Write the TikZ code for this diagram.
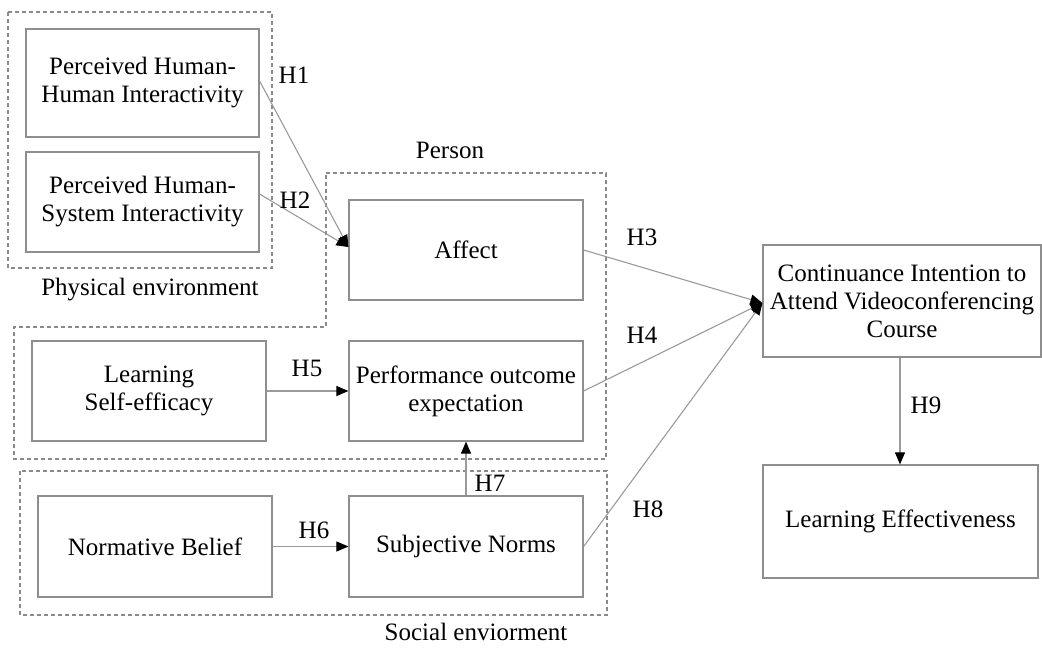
\documentclass[tikz,border=0pt]{standalone}
\usepackage{fontspec}
\setmainfont{Liberation Serif}
\usetikzlibrary{arrows.meta}
\definecolor{boxgray}{HTML}{8E8E8E}
\definecolor{linegray}{HTML}{9A9A9A}
\definecolor{dashgray}{HTML}{8A8A8A}
\begin{document}
\begin{tikzpicture}[x=1pt,y=-1pt,
  box/.style={draw=boxgray, line width=1.2pt, inner sep=0pt, align=center,
    font=\fontsize{25}{28}\selectfont},
  lbl/.style={inner sep=0pt, font=\fontsize{25}{28}\selectfont},
  conn/.style={draw=linegray, line width=1.1pt,
    -{Triangle[length=12pt,width=10pt,color=black]}},
  grp/.style={draw=dashgray, dash pattern=on 4pt off 3pt, line width=1.1pt}]
\useasboundingbox (0,0) rectangle (1042,649);

% group outlines
\draw[grp] (8,12) rectangle (272,268);
\draw[grp] (326,173) -- (606,173) -- (606,459) -- (14,459) -- (14,327) -- (326,327) -- cycle;
\draw[grp] (20,471) rectangle (607,615);

% boxes
\node[box, minimum width=233pt, minimum height=108pt] (phh) at (142.5,83) {Perceived Human-\\Human Interactivity};
\node[box, minimum width=233pt, minimum height=100pt] (phs) at (142.5,202) {Perceived Human-\\System Interactivity};
\node[box, minimum width=234pt, minimum height=100pt] (aff) at (466,250) {Affect};
\node[box, minimum width=234pt, minimum height=100pt] (perf) at (466,391) {Performance outcome\\expectation};
\node[box, minimum width=234pt, minimum height=100pt] (lse) at (149,391) {Learning\\Self-efficacy};
\node[box, minimum width=234pt, minimum height=101pt] (nb) at (155,546.5) {Normative Belief};
\node[box, minimum width=234pt, minimum height=101pt] (sn) at (466,546.5) {Subjective Norms};
\node[box, minimum width=278pt, minimum height=112pt] (ci) at (902,301) {Continuance Intention to\\Attend Videoconferencing\\Course};
\node[box, minimum width=275pt, minimum height=113pt] (le) at (900.5,521.5) {Learning Effectiveness};

% group labels
\node[lbl] (lphys) at (150,290) {Physical environment};
\node[lbl] (lpers) at (450,150) {Person};
\node[lbl] (lsoc) at (476,632) {Social enviorment};

% connector end points
\coordinate (affin) at ([yshift=3pt]aff.west);
\coordinate (ciin) at ([yshift=-2pt]ci.west);
\coordinate (h1s) at ([yshift=2pt]phh.east);
\coordinate (h2s) at ([yshift=8pt]phs.east);
\coordinate (h9s) at (ci.south -| 900,0);
\coordinate (h9e) at (le.north -| 900,0);

% connectors
\draw[conn] (h1s) -- (affin);
\draw[conn] (h2s) -- (affin);
\draw[conn] (aff.east) -- (ciin);
\draw[conn] (perf.east) -- (ciin);
\draw[conn] (sn.east) -- (ciin);
\draw[conn] (lse.east) -- (perf.west);
\draw[conn] (nb.east) -- (sn.west);
\draw[conn] (sn.north) -- (perf.south);
\draw[conn] (h9s) -- (h9e);

% hypothesis labels
\node[lbl] (t1) at (294,75) {H1};
\node[lbl] (t2) at (295,200) {H2};
\node[lbl] (t3) at (642,237) {H3};
\node[lbl] (t4) at (642,335) {H4};
\node[lbl] (t5) at (307,368) {H5};
\node[lbl] (t6) at (314,530) {H6};
\node[lbl] (t7) at (490,483) {H7};
\node[lbl] (t8) at (648,509) {H8};
\node[lbl] (t9) at (926,405) {H9};
\end{tikzpicture}
\end{document}
